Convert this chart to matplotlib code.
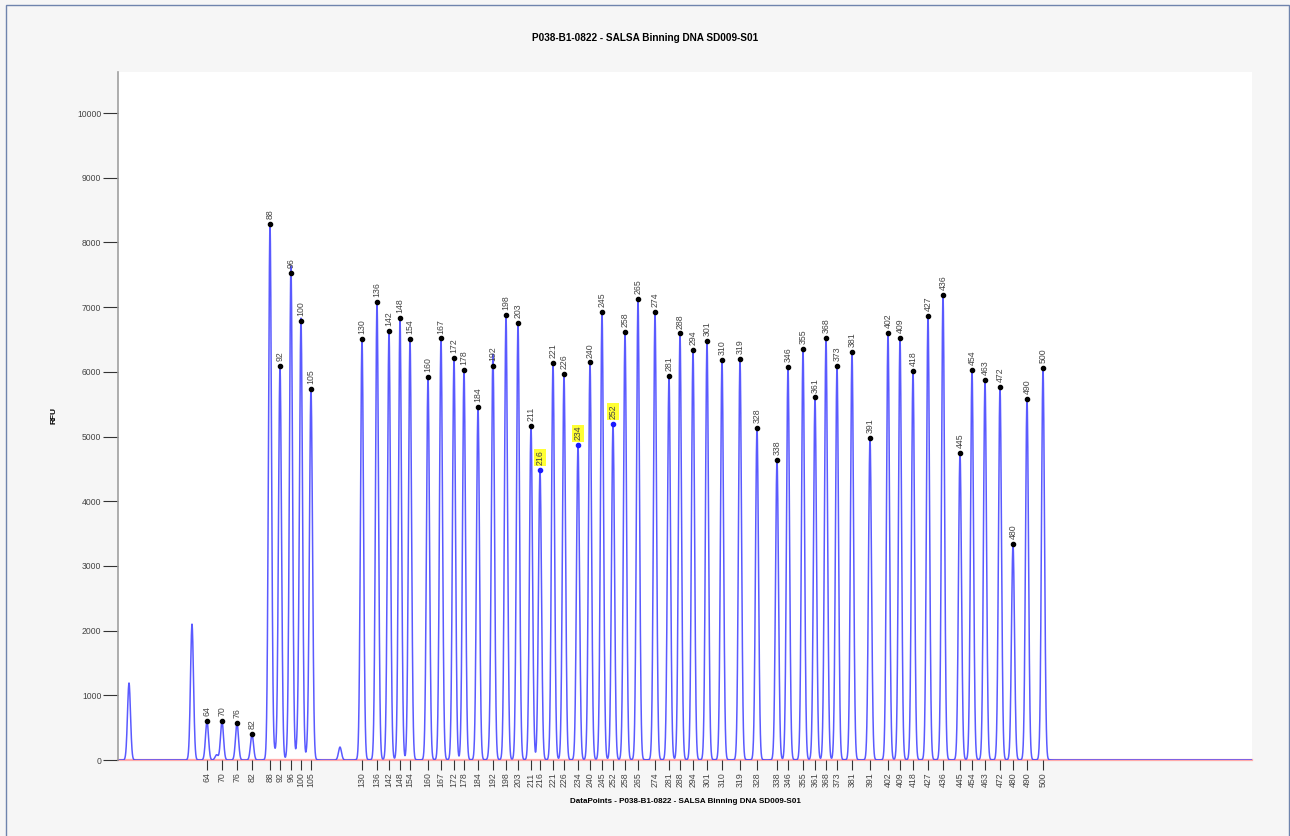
import numpy as np
import matplotlib.pyplot as plt
from matplotlib.patches import Rectangle

plt.rcParams['font.family'] = ['Liberation Sans', 'DejaVu Sans']

TITLE = "P038-B1-0822 - SALSA Binning DNA SD009-S01"

# --- labelled peaks: size (nt), position (data points), height (RFU) ---
sizes = [64, 70, 76, 82, 88, 92, 96, 100, 105,
         130, 136, 142, 148, 154, 160, 167, 172, 178, 184, 192, 198, 203,
         211, 216, 221, 226, 234, 240, 245, 252, 258, 265, 274, 281, 288,
         294, 301, 310, 319, 328, 338, 346, 355, 361, 368, 373, 381, 391,
         402, 409, 418, 427, 436, 445, 454, 463, 472, 480, 490, 500]
positions = [445, 520, 595, 670, 760, 810, 865, 915, 965,
             1220, 1295, 1355, 1410, 1460, 1550, 1615, 1680, 1730, 1800, 1875, 1940, 2000,
             2065, 2110, 2175, 2230, 2300, 2360, 2420, 2475, 2535, 2600, 2685, 2755, 2810,
             2875, 2945, 3020, 3110, 3195, 3295, 3350, 3425, 3485, 3540, 3595, 3670, 3760,
             3850, 3910, 3975, 4050, 4125, 4210, 4270, 4335, 4410, 4475, 4545, 4625]
heights = [600, 600, 570, 400, 8285, 6090, 7530, 6790, 5734,
           6507, 7074, 6630, 6831, 6507, 5915, 6517, 6213, 6033, 5461, 6094, 6873, 6749,
           5162, 4482, 6141, 5961, 4864, 6146, 6929, 5193, 6615, 7125, 6924, 5930, 6594,
           6337, 6476, 6182, 6193, 5136, 4632, 6079, 6347, 5605, 6522, 6090, 6311, 4972,
           6605, 6527, 6017, 6867, 7192, 4750, 6033, 5868, 5770, 3338, 5584, 6054]
flagged = [216, 234, 252]

# --- unlabelled peaks and shoulders in the trace ---
other_pos = [55, 370, 1110, 493, 785, 855, 900, 950, 1865]
other_h = [1190, 2100, 200, 80, 110, 258, 283, 155, 430]

x_max = 5670
x = np.arange(0, x_max + 1, 1.0)
trace = np.zeros_like(x)
for p, h in zip(positions + other_pos, heights + other_h):
    d = np.abs(x - p)
    trace += h * (0.985 * np.exp(-0.5 * (d / 7.5) ** 2) + 0.015 * np.exp(-d / 10.0))

fig = plt.figure(figsize=(12.9, 8.36), dpi=100, facecolor='#f6f6f6')
fig.patches.append(Rectangle((6 / 1290, -0.01), 1283 / 1290, 1.01 - 5 / 836,
                             transform=fig.transFigure, fill=False,
                             edgecolor='#6f84ad', lw=1.0))
ax = fig.add_axes([118 / 1290, 1 - 760 / 836, (1252 - 118) / 1290, (760 - 72) / 836])
ax.set_facecolor('white')

ax.plot(x, trace, color='#3d3dff', lw=1.1, alpha=0.85, zorder=2)
ax.axhline(0, color='#ffaaaa', lw=1.6, zorder=1, clip_on=False)

for s, p, h in zip(sizes, positions, heights):
    hl = s in flagged
    ax.plot(p, h, 'o', ms=3.0, color='#1a1aff' if hl else 'black', zorder=3)
    ax.annotate(str(s), (p, h), xytext=(0, 3.5), textcoords='offset points',
                rotation=90, ha='center', va='bottom', fontsize=6.3, color='#444444',
                bbox=dict(boxstyle='square,pad=0.15', fc='#ffff33', ec='none') if hl else None)

ax.set_xlim(0, x_max)
ax.set_ylim(0, 10634)
ax.set_yticks(np.arange(0, 10001, 1000))
ax.set_xticks(positions)
ax.set_xticklabels([str(s) for s in sizes], rotation=90)
ax.tick_params(axis='y', length=11, width=0.8, color='#333333', labelsize=6.2,
               labelcolor='#444444', pad=1)
ax.tick_params(axis='x', length=7, width=0.8, color='#333333', labelsize=6.3,
               labelcolor='#444444', pad=2)

for side in ['top', 'right', 'bottom']:
    ax.spines[side].set_visible(False)
ax.spines['left'].set_color('#a0a0a0')
ax.spines['left'].set_linewidth(1.2)

ax.set_ylabel('RFU', fontsize=6, fontweight='bold', labelpad=14)
ax.set_xlabel('DataPoints - ' + TITLE, fontsize=5.8, fontweight='bold', labelpad=8)
fig.text(0.5, 1 - 38 / 836, TITLE, ha='center', va='center', fontsize=7.2, fontweight='bold')

fig.savefig('out.png', dpi=100, facecolor=fig.get_facecolor())
